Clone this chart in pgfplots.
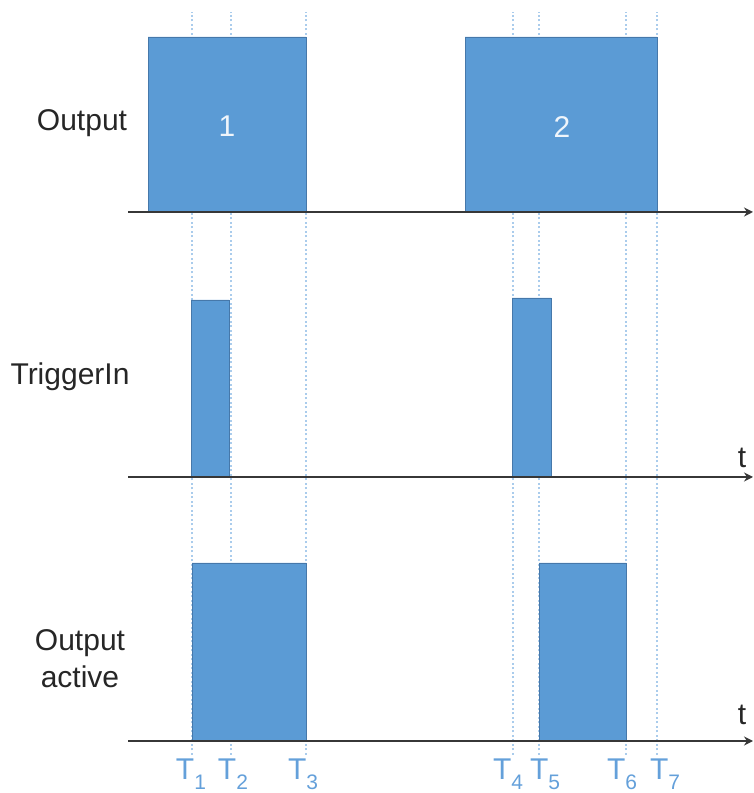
\documentclass[border=0pt]{standalone}
\usepackage{pgfplots}
\pgfplotsset{compat=1.18}
\usepackage{fontspec}
\setmainfont{Liberation Sans}
\usetikzlibrary{arrows.meta}
\definecolor{boxblue}{RGB}{91,155,213}
\definecolor{boxedge}{RGB}{70,120,170}
\definecolor{guide}{RGB}{170,204,236}
\definecolor{tlabel}{RGB}{100,160,218}
\definecolor{axisgray}{RGB}{55,55,55}
\newcommand{\Tl}[1]{T\raisebox{-9pt}{\fontsize{21}{21}\selectfont #1}}
\tikzset{lbl/.style={font=\fontsize{30}{36}\selectfont, anchor=base, inner sep=0pt}}
\begin{document}
\begin{tikzpicture}
\begin{axis}[
  scale only axis, width=753pt, height=793pt,
  xmin=0, xmax=753, ymin=0, ymax=793,
  axis lines=none, clip=false,
]
% guide lines
\pgfplotsinvokeforeach{192,231,306,513,539,626,657}{
  \addplot[guide, line width=1.3pt, dash pattern=on 2pt off 2.5pt, forget plot] coordinates {(#1,38) (#1,781)};
}
% Output
\addplot[fill=boxblue, draw=boxedge, line width=0.8pt] coordinates {(148,581) (148,756) (306,756) (306,581) (148,581)};
\addplot[fill=boxblue, draw=boxedge, line width=0.8pt] coordinates {(465,581) (465,756) (657,756) (657,581) (465,581)};
% TriggerIn
\addplot[fill=boxblue, draw=boxedge, line width=0.8pt] coordinates {(191,316) (191,493) (229,493) (229,316) (191,316)};
\addplot[fill=boxblue, draw=boxedge, line width=0.8pt] coordinates {(512,316) (512,495) (551,495) (551,316) (512,316)};
% Output active
\addplot[fill=boxblue, draw=boxedge, line width=0.8pt] coordinates {(192,52) (192,230) (306,230) (306,52) (192,52)};
\addplot[fill=boxblue, draw=boxedge, line width=0.8pt] coordinates {(539,52) (539,230) (626,230) (626,52) (539,52)};
% time axes
\draw[axisgray, line width=1.8pt, -{Stealth[length=9pt,width=9pt]}] (axis cs:128,581) -- (axis cs:753,581);
\draw[axisgray, line width=1.8pt, -{Stealth[length=9pt,width=9pt]}] (axis cs:128,316) -- (axis cs:753,316);
\draw[axisgray, line width=1.8pt, -{Stealth[length=9pt,width=9pt]}] (axis cs:128,52) -- (axis cs:753,52);
% labels
\node[lbl, text=black!85] at (axis cs:82,662) {Output};
\node[lbl, text=black!85] at (axis cs:70,408) {TriggerIn};
\node[lbl, text=black!85] at (axis cs:80,142) {Output};
\node[lbl, text=black!85] at (axis cs:80,105) {active};
\node[lbl, text=white!90!boxblue] at (axis cs:227,656) {1};
\node[lbl, text=white!90!boxblue] at (axis cs:562,655) {2};
\node[lbl, text=black!85] at (axis cs:742,325) {t};
\node[lbl, text=black!85] at (axis cs:742,68) {t};
% T labels
\node[lbl, text=tlabel] at (axis cs:191,13) {\Tl{1}};
\node[lbl, text=tlabel] at (axis cs:233,13) {\Tl{2}};
\node[lbl, text=tlabel] at (axis cs:303,13) {\Tl{3}};
\node[lbl, text=tlabel] at (axis cs:508,13) {\Tl{4}};
\node[lbl, text=tlabel] at (axis cs:545,13) {\Tl{5}};
\node[lbl, text=tlabel] at (axis cs:622,13) {\Tl{6}};
\node[lbl, text=tlabel] at (axis cs:665,13) {\Tl{7}};
\end{axis}
\pgfresetboundingbox
\useasboundingbox (0,0) rectangle (753pt,793pt);
\end{tikzpicture}
\end{document}
